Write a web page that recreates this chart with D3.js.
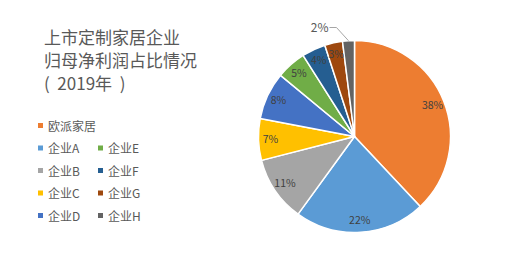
<!DOCTYPE html>
<html>
<head>
<meta charset="utf-8">
<script src="https://cdn.jsdelivr.net/npm/d3@7"></script>
<style>
  body { margin: 0; background: #fff; }
  svg { display: block; font-family: "Noto Sans CJK SC", "Noto Sans", sans-serif; }
</style>
</head>
<body>
<svg id="chart" width="505" height="261"></svg>
<script>
var titleLines = ["上市定制家居企业", "归母净利润占比情况", "(  2019年  )"];
var labels = ["欧派家居", "企业A", "企业B", "企业C", "企业D", "企业E", "企业F", "企业G", "企业H"];
var values = [38, 22, 11, 7, 8, 5, 4, 3, 2];
var colors = ["#ED7D31", "#5B9BD5", "#A5A5A5", "#FFC000", "#4472C4", "#70AD47", "#255E91", "#9E480E", "#636363"];

var svg = d3.select("#chart");
var cx = 354.5, cy = 136.5, radius = 96;

// title
svg.append("g").selectAll("text")
    .data(titleLines)
    .enter().append("text")
    .attr("x", 44)
    .attr("y", function (d, i) { return 44 + i * 23; })
    .attr("font-size", 17)
    .attr("fill", "#595959")
    .style("white-space", "pre")
    .text(function (d) { return d; });

// legend: first item alone, rest in two columns
var legendPos = function (i) {
    if (i == 0) return [38, 126];
    var k = i - 1;
    var col = Math.floor(k / 4), row = k % 4;
    return [38 + col * 60, 148.5 + row * 22.5];
};
var legend = svg.append("g").selectAll("g")
    .data(labels)
    .enter().append("g")
    .attr("transform", function (d, i) {
        var p = legendPos(i);
        return "translate(" + p[0] + "," + p[1] + ")";
    });
legend.append("rect")
    .attr("x", 0).attr("y", -3)
    .attr("width", 5).attr("height", 5)
    .attr("fill", function (d, i) { return colors[i]; });
legend.append("text")
    .attr("x", 10).attr("y", 4.5)
    .attr("font-size", 12)
    .attr("fill", "#595959")
    .text(function (d) { return d; });

// pie
var pie = d3.pie().sort(null).value(function (d) { return d; });
var arcs = pie(values);
var arc = d3.arc().innerRadius(0).outerRadius(radius);
var labelArc = d3.arc().innerRadius(84).outerRadius(84);

var g = svg.append("g").attr("transform", "translate(" + cx + "," + cy + ")");
g.selectAll("path")
    .data(arcs)
    .enter().append("path")
    .attr("d", arc)
    .attr("fill", function (d, i) { return colors[i]; })
    .attr("stroke", "#fff")
    .attr("stroke-width", 1.5)
    .attr("stroke-linejoin", "round");

var total = d3.sum(values);
g.selectAll(".lbl")
    .data(arcs.slice(0, arcs.length - 1))
    .enter().append("text")
    .attr("class", "lbl")
    .attr("transform", function (d) { return "translate(" + labelArc.centroid(d) + ")"; })
    .attr("text-anchor", "middle")
    .attr("dy", "0.35em")
    .attr("font-size", 10.5)
    .attr("fill", "#404040")
    .text(function (d) { return Math.round(d.value / total * 100) + "%"; });

// last slice label outside with leader line
var last = arcs[arcs.length - 1];
var edge = d3.arc().innerRadius(radius).outerRadius(radius).centroid(last);
var lx = edge[0] - 12, ly = -109;
g.append("polyline")
    .attr("points", [[edge[0], edge[1]], [lx, ly], [lx - 7, ly]].join(" "))
    .attr("fill", "none")
    .attr("stroke", "#A6A6A6")
    .attr("stroke-width", 1);
g.append("text")
    .attr("x", lx - 8).attr("y", ly)
    .attr("dy", "0.35em")
    .attr("text-anchor", "end")
    .attr("font-size", 12)
    .attr("fill", "#595959")
    .text(Math.round(last.value / total * 100) + "%");
</script>
</body>
</html>
